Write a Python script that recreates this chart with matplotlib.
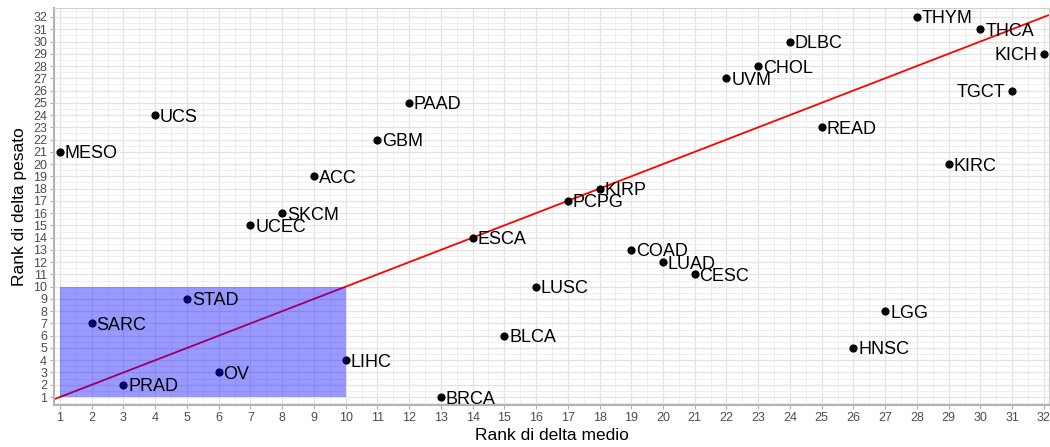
import matplotlib.pyplot as plt
import matplotlib.patches as mpatches
from matplotlib.ticker import MultipleLocator

plt.rcParams['font.family'] = ['Liberation Sans', 'DejaVu Sans']

# DATA
tumori = ['MESO', 'UCS', 'PAAD', 'GBM', 'ACC', 'SKCM', 'UCEC', 'ESCA', 'PCPG', 'KIRP',
          'LUSC', 'BLCA', 'BRCA', 'LIHC', 'OV', 'PRAD', 'SARC', 'STAD', 'COAD', 'LUAD',
          'CESC', 'UVM', 'CHOL', 'DLBC', 'THYM', 'THCA', 'KICH', 'TGCT', 'READ', 'KIRC',
          'LGG', 'HNSC']
rank_medio = [1, 4, 12, 11, 9, 8, 7, 14, 17, 18,
              16, 15, 13, 10, 6, 3, 2, 5, 19, 20,
              21, 22, 23, 24, 28, 30, 32, 31, 25, 29,
              27, 26]
rank_pesato = [21, 24, 25, 22, 19, 16, 15, 14, 17, 18,
               10, 6, 1, 4, 3, 2, 7, 9, 13, 12,
               11, 27, 28, 30, 32, 31, 29, 26, 23, 20,
               8, 5]
labels_left = ['KICH', 'TGCT']
box = (1, 10)  # zona evidenziata

fig = plt.figure(figsize=(10.5, 4.47), dpi=100)
ax = fig.add_axes([0.0514, 0.094, 0.9476, 0.888])

ax.set_xlim(0.81, 32.16)
ax.set_ylim(0.35, 32.73)

ax.xaxis.set_major_locator(MultipleLocator(1))
ax.yaxis.set_major_locator(MultipleLocator(1))
ax.xaxis.set_minor_locator(MultipleLocator(0.5))
ax.yaxis.set_minor_locator(MultipleLocator(0.5))
ax.grid(True, which='major', color='#e3e3e3', lw=0.9, zorder=0)
ax.grid(True, which='minor', color='#ededed', lw=0.6, zorder=0)
ax.set_axisbelow(True)
ax.tick_params(which='minor', length=0)
ax.tick_params(which='major', length=3, color='#b3b3b3', labelcolor='#4d4d4d',
               labelsize=9, pad=2)
for s in ax.spines.values():
    s.set_color('#d0d0d0')
    s.set_linewidth(0.8)
for s in ['left', 'bottom']:
    ax.spines[s].set_color('#b3b3b3')
    ax.spines[s].set_linewidth(1.5)

# bisettrice
ax.plot([0, 33], [0, 33], color='red', lw=1.3, zorder=2)

ax.scatter(rank_medio, rank_pesato, s=24, color='black', zorder=3)

ax.add_patch(mpatches.Rectangle((box[0], box[0]), box[1] - box[0], box[1] - box[0],
                                facecolor='blue', alpha=0.4, edgecolor='none', zorder=4))

for nome, x, y in zip(tumori, rank_medio, rank_pesato):
    if nome in labels_left:
        ax.annotate(nome, (x, y), xytext=(-5, 0), textcoords='offset points',
                    ha='right', va='center_baseline', fontsize=13, zorder=5)
    else:
        ax.annotate(nome, (x, y), xytext=(3.5, 0), textcoords='offset points',
                    ha='left', va='center_baseline', fontsize=13, zorder=5)

ax.set_xlabel('Rank di delta medio', fontsize=12.5, labelpad=3)
ax.set_ylabel('Rank di delta pesato', fontsize=12.5, labelpad=4)

plt.savefig('out.png', dpi=100)
